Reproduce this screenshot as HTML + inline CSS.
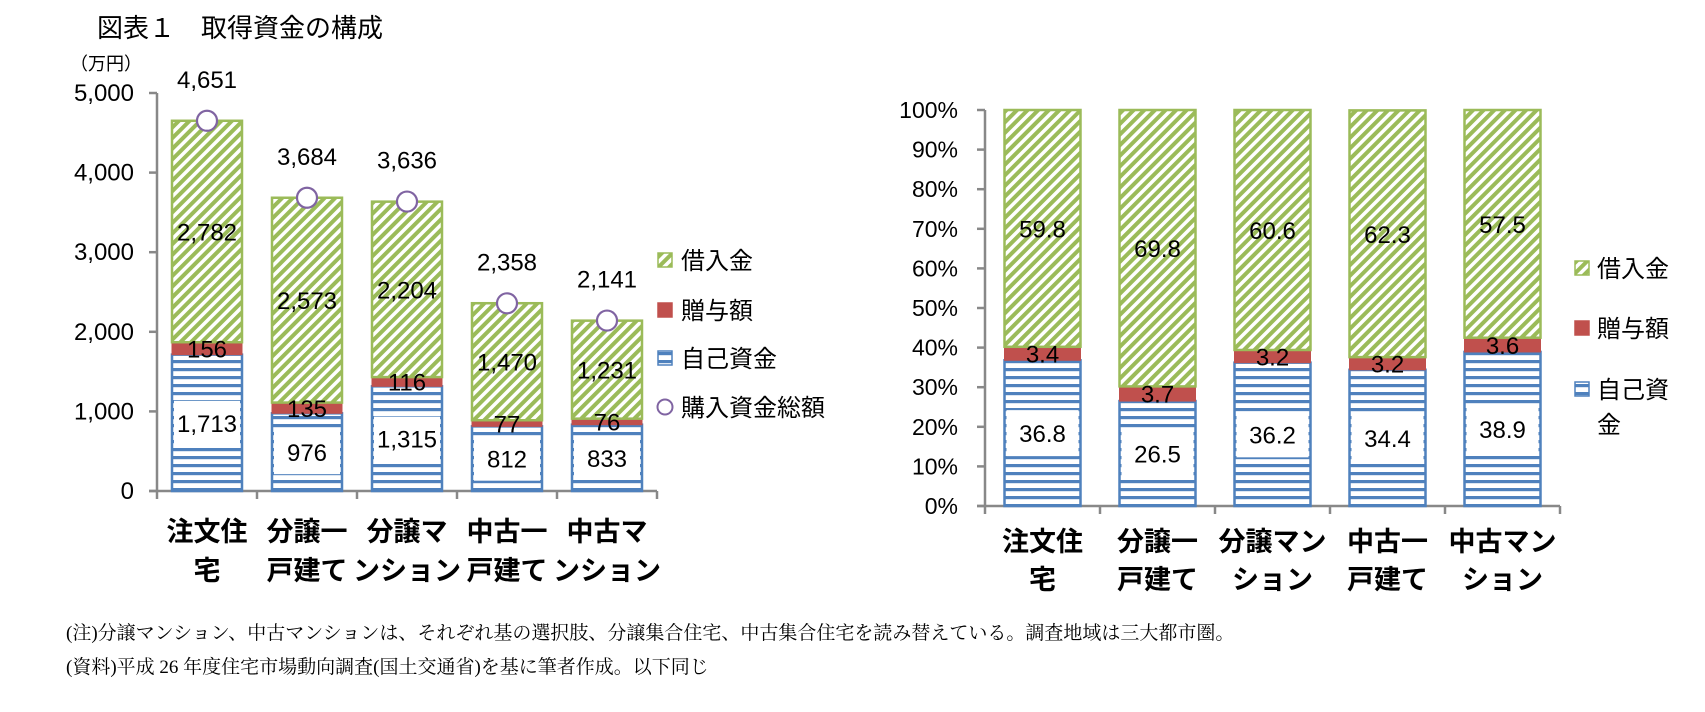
<!DOCTYPE html>
<html><head><meta charset="utf-8">
<style>
body{margin:0;background:#fff;width:1705px;height:712px;overflow:hidden;position:relative;}
svg text{font-family:"Liberation Sans","Noto Sans CJK JP",sans-serif;}
.note{position:absolute;left:66px;font-family:"Liberation Serif","Noto Serif CJK SC",serif;font-size:19px;color:#000;white-space:nowrap;}
</style></head><body>
<svg id="c" width="1705" height="712" xmlns="http://www.w3.org/2000/svg" style="position:absolute;left:0;top:0">
<defs>
<pattern id="pg" patternUnits="userSpaceOnUse" width="7.5" height="7.5" patternTransform="rotate(45)">
<rect width="7.5" height="7.5" fill="#fff"/><rect width="4" height="7.5" fill="#9bbb59"/></pattern>
<pattern id="pb" patternUnits="userSpaceOnUse" width="8" height="8">
<rect width="8" height="8" fill="#fff"/><rect y="0" width="8" height="3.2" fill="#4f81bd"/></pattern>
</defs>
<text x="97" y="37" font-size="26" fill="#000">図表１　取得資金の構成</text>
<text x="70" y="70" font-size="18">（万円）</text>
</svg>
<div class="note" style="top:618px">(注)分譲マンション、中古マンションは、それぞれ基の選択肢、分譲集合住宅、中古集合住宅を読み替えている。調査地域は三大都市圏。</div>
<div class="note" style="top:652px">(資料)平成 26 年度住宅市場動向調査(国土交通省)を基に筆者作成。以下同じ</div>
<script>
const catsL=[["注文住","宅"],["分譲一","戸建て"],["分譲マ","ンション"],["中古一","戸建て"],["中古マ","ンション"]];
const selfL=[1713,976,1315,812,833];
const giftL=[156,135,116,77,76];
const loanL=[2782,2573,2204,1470,1231];
const totalL=[4651,3684,3636,2358,2141];
const ticksL=[0,1000,2000,3000,4000,5000];
const catsR=[["注文住","宅"],["分譲一","戸建て"],["分譲マン","ション"],["中古一","戸建て"],["中古マン","ション"]];
const selfR=[36.8,26.5,36.2,34.4,38.9];
const giftR=[3.4,3.7,3.2,3.2,3.6];
const loanR=[59.8,69.8,60.6,62.3,57.5];
const ticksR=[0,10,20,30,40,50,60,70,80,90,100];

const svg=document.getElementById('c');
const NS='http://www.w3.org/2000/svg';
function el(t,a,txt){const e=document.createElementNS(NS,t);for(const k in a)e.setAttribute(k,a[k]);if(txt!==undefined)e.textContent=txt;svg.appendChild(e);return e;}
function fmt(v){return v.toLocaleString('en-US');}
let e;

// Left chart
const L0=491,LTop=93;
const yL=v=>L0-v*(L0-LTop)/5000;
const axL=157,stL=100;
const xL=i=>axL+stL/2+i*stL;
e=el('line',{x1:axL,y1:LTop,x2:axL,y2:L0,stroke:'#888','stroke-width':2.5});

e=el('line',{x1:axL-8,y1:L0,x2:axL+5*stL,y2:L0,stroke:'#888','stroke-width':2.5});

ticksL.forEach(t=>{
 e=el('line',{x1:axL-8,y1:yL(t),x2:axL,y2:yL(t),stroke:'#888','stroke-width':2.5});
 
 e=el('text',{x:134,y:yL(t)+8,'font-size':24,'text-anchor':'end'},fmt(t));
 
});
for(let i=0;i<=5;i++){e=el('line',{x1:axL+i*stL,y1:L0,x2:axL+i*stL,y2:L0+8,stroke:'#888','stroke-width':2.5});}
const bw=70;
catsL.forEach((c,i)=>{
 const x=xL(i)-bw/2;
 const s=selfL[i],g=giftL[i],l=loanL[i];
 e=el('rect',{x:x,y:yL(s),width:bw,height:yL(0)-yL(s),fill:'url(#pb)',stroke:'#4f81bd','stroke-width':2.5});
 
 e=el('rect',{x:x,y:yL(s+g),width:bw,height:yL(s)-yL(s+g),fill:'#c0504d',stroke:'#c0504d','stroke-width':1});
 
 e=el('rect',{x:x,y:yL(s+g+l),width:bw,height:yL(s+g)-yL(s+g+l),fill:'url(#pg)',stroke:'#9bbb59','stroke-width':2.5});
 
 const ys=yL(s/2);
 e=el('rect',{x:x+2,y:ys-22,width:bw-4,height:44,fill:'#fff'});
 
 e=el('text',{x:xL(i),y:ys+9,'font-size':24,'text-anchor':'middle'},fmt(s));
 
 e=el('text',{x:xL(i),y:yL(s+g/2)+9,'font-size':24,'text-anchor':'middle'},fmt(g));
 
 e=el('text',{x:xL(i),y:yL(s+g+l/2)+9,'font-size':24,'text-anchor':'middle'},fmt(l));
 
 const t=totalL[i];
 e=el('circle',{cx:xL(i),cy:yL(t),r:10,fill:'#fff',stroke:'#8064a2','stroke-width':2.2});
 
 e=el('text',{x:xL(i),y:yL(t)-33,'font-size':24,'text-anchor':'middle'},fmt(t));
 
 c.forEach((ln,k)=>{e=el('text',{x:xL(i),y:541+k*39,'font-size':27,'font-weight':'bold','text-anchor':'middle'},ln);
 });
});
function sw(x,y,fill,stroke,nm){e=el('rect',{x:x,y:y-7,width:14,height:14,fill:fill,stroke:stroke,'stroke-width':1.5});}
sw(658,260,'url(#pg)','#9bbb59','legend-loan-swatch');
e=el('text',{x:681,y:269,'font-size':24},'借入金');
sw(658,310,'#c0504d','#c0504d','legend-gift-swatch');
e=el('text',{x:681,y:319,'font-size':24},'贈与額');
sw(658,358,'url(#pb)','#4f81bd','legend-self-swatch');
e=el('text',{x:681,y:367,'font-size':24},'自己資金');
e=el('circle',{cx:665,cy:407,r:7.5,fill:'#fff',stroke:'#8064a2','stroke-width':2});
e=el('text',{x:681,y:416,'font-size':24},'購入資金総額');

// Right chart
const R0=506,RTop=110;
const yR=v=>R0-v*(R0-RTop)/100;
const axR=985,stR=115;
const xR=i=>axR+stR/2+i*stR;
e=el('line',{x1:axR,y1:RTop,x2:axR,y2:R0,stroke:'#888','stroke-width':2.5});

e=el('line',{x1:axR-8,y1:R0,x2:axR+5*stR,y2:R0,stroke:'#888','stroke-width':2.5});

ticksR.forEach(t=>{
 e=el('line',{x1:axR-8,y1:yR(t),x2:axR,y2:yR(t),stroke:'#888','stroke-width':2.5});
 
 e=el('text',{x:958,y:yR(t)+8,'font-size':23,'text-anchor':'end'},t+'%');
 
});
for(let i=0;i<=5;i++){e=el('line',{x1:axR+i*stR,y1:R0,x2:axR+i*stR,y2:R0+8,stroke:'#888','stroke-width':2.5});}
const bw2=76;
catsR.forEach((c,i)=>{
 const x=xR(i)-bw2/2;
 const s=selfR[i],g=giftR[i],l=loanR[i];
 e=el('rect',{x:x,y:yR(s),width:bw2,height:yR(0)-yR(s),fill:'url(#pb)',stroke:'#4f81bd','stroke-width':2.5});
 
 e=el('rect',{x:x,y:yR(s+g),width:bw2,height:yR(s)-yR(s+g),fill:'#c0504d',stroke:'#c0504d','stroke-width':1});
 
 e=el('rect',{x:x,y:yR(s+g+l),width:bw2,height:yR(s+g)-yR(s+g+l),fill:'url(#pg)',stroke:'#9bbb59','stroke-width':2.5});
 
 const ys=yR(s/2);
 e=el('rect',{x:x+2,y:ys-23,width:bw2-4,height:46,fill:'#fff'});
 
 e=el('text',{x:xR(i),y:ys+9,'font-size':24,'text-anchor':'middle'},s.toFixed(1));
 
 e=el('text',{x:xR(i),y:yR(s+g/2)+9,'font-size':24,'text-anchor':'middle'},g.toFixed(1));
 
 e=el('text',{x:xR(i),y:yR(s+g+l/2)+9,'font-size':24,'text-anchor':'middle'},l.toFixed(1));
 
 c.forEach((ln,k)=>{e=el('text',{x:xR(i),y:551+k*38,'font-size':27,'font-weight':'bold','text-anchor':'middle'},ln);
 });
});
sw(1575,268,'url(#pg)','#9bbb59','right-legend-loan-swatch');
e=el('text',{x:1597,y:277,'font-size':24},'借入金');
sw(1575,328,'#c0504d','#c0504d','right-legend-gift-swatch');
e=el('text',{x:1597,y:337,'font-size':24},'贈与額');
sw(1575,389,'url(#pb)','#4f81bd','right-legend-self-swatch');
e=el('text',{x:1597,y:398,'font-size':24},'自己資');
e=el('text',{x:1597,y:433,'font-size':24},'金');
</script>
</body></html>
